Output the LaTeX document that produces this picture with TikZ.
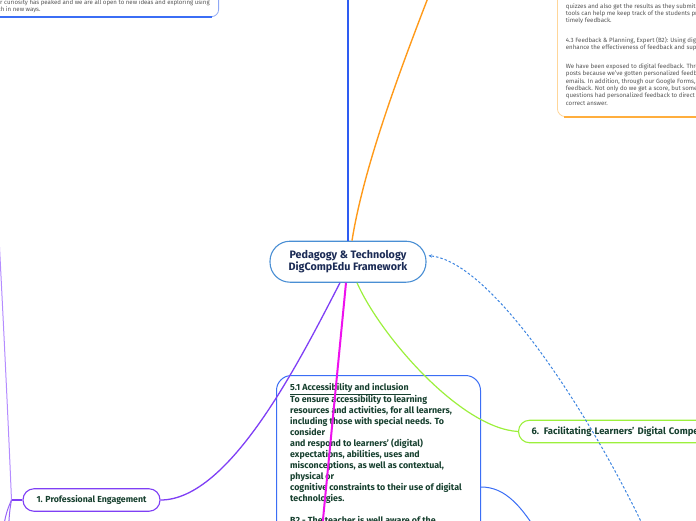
\documentclass[tikz,border=0pt]{standalone}
\usepackage{fontspec}
\setmainfont{Fira Sans}
\usetikzlibrary{arrows.meta}
\definecolor{navy}{HTML}{1B2B55}
\definecolor{nodetext}{HTML}{17402F}
\definecolor{greytext}{HTML}{555555}
\definecolor{cblue}{HTML}{4A8FD4}
\definecolor{vblue}{HTML}{2E5CF2}
\definecolor{boxblue}{HTML}{3B6EF5}
\definecolor{lblue}{HTML}{8FA8F5}
\definecolor{orangeM}{HTML}{FF9A1A}
\definecolor{orangeL}{HTML}{FFD699}
\definecolor{orangeB}{HTML}{FFAE3D}
\definecolor{magentaL}{HTML}{EE11EE}
\definecolor{purpleL}{HTML}{7F3FF5}
\definecolor{purpleLL}{HTML}{B48CFF}
\definecolor{greenL}{HTML}{9CF03C}
\definecolor{dashblue}{HTML}{3D85E0}
\newlength\fitlen
\newcommand\fitsize[4]{\settowidth\fitlen{#2\fontsize{10}{10}\selectfont #3}\pgfmathsetmacro#1{10*#4/\fitlen}}
\AtBeginDocument{%
\fitsize\szC{\bfseries}{Pedagogy \& Technology}{117}%
\fitsize\szA{\bfseries}{1. Professional Engagement}{110}%
\fitsize\szB{\bfseries}{To ensure accessibility to learning}{137}%
\fitsize\szF{\bfseries}{6. Facilitating Learners' Digital}{130.7}%
\fitsize\szN{}{emails. In addition, through our Google Forms,}{129.6}%
\fitsize\szT{}{r curiosity has peaked and we are all open to new ideas and exploring using}{209.5}%
\settowidth\fitlen{\fontsize{\szT}{7.3}\selectfont Our curiosity has peaked and we are all open to new ideas and exploring using}%
\pgfmathsetmacro\tlx{209.5-\fitlen}%
}
\tikzset{
  topicbox/.style={draw, fill=white, rounded corners=11pt, line width=1.1pt,
    text=nodetext, minimum height=22.5pt, inner sep=0pt},
  notebox/.style={fill=white, inner sep=0pt},
  notetext/.style={inner sep=0pt, align=left, text=greytext},
  bodytext/.style={inner sep=0pt, align=left, text=nodetext,
    font=\bfseries\fontsize{\szB}{11}\selectfont},
}
\begin{document}
\begin{tikzpicture}[x=1pt,y=-1pt]
\useasboundingbox (0,0) rectangle (696,520);
\clip (0,0) rectangle (696,520);

% free ends of connectors (off the picture)
\coordinate (topB) at (348,-10);
\coordinate (topO) at (431,-10);
\coordinate (botM) at (321,540);
\coordinate (dashS) at (652,545);
\coordinate (j) at (11.5,500);
\coordinate (upL) at (-3,200);
\coordinate (dnA) at (3,532);
\coordinate (dnB) at (8.5,532);
\coordinate (b5a) at (545,545);

% top-left note box
\node[notebox, draw=lblue, line width=0.8pt, rounded corners=7pt, minimum width=270pt, minimum height=60pt, anchor=south east] (tl) at (219,17) {};
\draw[boxblue, line width=1.2pt] ([xshift=-7pt]tl.south east) -- ([xshift=-40pt]tl.south west);
\node[notetext, anchor=north west, font=\fontsize{\szT}{7.3}\selectfont] (tltext) at (\tlx,-0.8) {Our curiosity has peaked and we are all open to new ideas and exploring using\\tech in new ways.};

% top-right feedback box
\node[notebox, draw=orangeL, line width=0.8pt, rounded corners=8pt, minimum width=220pt, minimum height=160pt, anchor=south west] (fb) at (557,117) {};
\draw[orangeB, line width=1.5pt] ([xshift=7pt]fb.south west) -- (fb.south east);
\node[notetext, anchor=north west, font=\fontsize{\szN}{7.3}\selectfont] (fbtext) at (565.7,3.2) {quizzes and also get the results as they submit\\tools can help me keep track of the students progress\\timely feedback.\\[12pt]4.3 Feedback \& Planning, Expert (B2): Using digital\\enhance the effectiveness of feedback and support\\[12pt]We have been exposed to digital feedback. Through\\posts because we've gotten personalized feedback\\emails. In addition, through our Google Forms, we\\feedback. Not only do we get a score, but some\\questions had personalized feedback to direct you\\correct answer.};

% 5.1 box
\node[notebox, draw=boxblue, line width=1pt, rounded corners=15pt, minimum width=204pt, minimum height=220pt, anchor=north west] (b51) at (276,375) {};
\node[bodytext, anchor=north west] (b51text) at (290,383) {\underline{5.1 Accessibility and inclusion }\\To ensure accessibility to learning\\resources and activities, for all learners,\\including those with special needs. To\\consider\\and respond to learners’ (digital)\\expectations, abilities, uses and\\misconceptions, as well as contextual,\\physical or\\cognitive constraints to their use of digital\\technologies.\\[11pt]B2 - The teacher is well aware of the};

% central node
\node[draw=cblue, fill=white, line width=1.1pt, rounded corners=20pt, minimum width=156pt, minimum height=41pt, align=center, text=navy, font=\bfseries\fontsize{\szC}{12.5}\selectfont] (central) at (348,261.7) {Pedagogy \& Technology\\DigCompEdu Framework};

% topic nodes
\node[topicbox, draw=purpleL, minimum width=137pt, font=\bfseries\fontsize{\szA}{9}\selectfont] (n1) at (91.5,500) {1. Professional Engagement};
\node[topicbox, draw=greenL, anchor=west, inner xsep=13pt, minimum width=230pt, align=left, text width=204pt, font=\bfseries\fontsize{\szF}{9}\selectfont] (n6) at (518,431.5) {6. Facilitating Learners' Digital Competence};

% connectors
\draw[vblue, line width=1.6pt] (central.north) -- (topB);
\draw[orangeM, line width=1.4pt] ([xshift=4pt]central.north) .. controls (364,165) and (402,65) .. (topO);
\draw[purpleL, line width=1.3pt] ([xshift=-8pt]central.south) .. controls (300,360) and (230,500) .. (n1.east);
\draw[greenL, line width=1.2pt] ([xshift=9pt]central.south) .. controls (380,335) and (460,428) .. (n6.west);
\draw[boxblue, line width=1pt] ([yshift=-112pt]b51.north east) .. controls (505,487) and (522,505) .. (b5a);
\draw[purpleL, line width=1.1pt] (n1.west) -- (j);
\draw[purpleLL, line width=1pt] (j) .. controls (9,440) and (4,330) .. (upL);
\draw[purpleL!80, line width=1pt] (j) .. controls (8,508) and (5,515) .. (dnA);
\draw[purpleL!80, line width=1pt] (j) .. controls (10,508) and (9,515) .. (dnB);
\draw[magentaL, line width=2pt] ([xshift=-2pt]central.south) -- (botM);
\draw[dashblue, line width=1pt, dash pattern=on 2.5pt off 2pt, -{Stealth[length=3.5pt,width=3.5pt]}] (dashS) .. controls (600,430) and (495,262) .. ([xshift=2pt,yshift=6pt]central.east);
\end{tikzpicture}
\end{document}
